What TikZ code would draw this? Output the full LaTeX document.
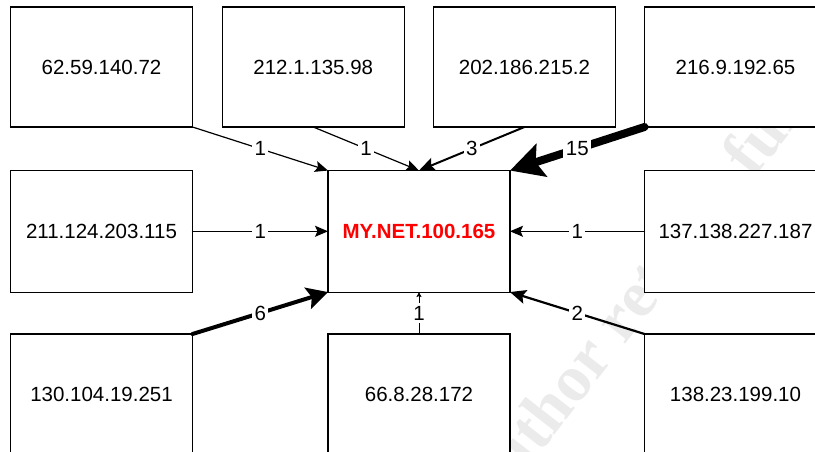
\documentclass[tikz,border=0pt]{standalone}
\usepackage{fontspec}
\setmainfont{Liberation Sans}
\newfontfamily\markfont{Liberation Serif}
\usetikzlibrary{arrows.meta}

\begin{document}
\begin{tikzpicture}[x=1pt,y=-1pt,
  hostbox/.style={draw=black, line width=1.1pt, fill=white,
    minimum width=182pt, minimum height=120pt, inner sep=0pt, outer sep=0pt,
    font=\fontsize{20.5}{24}\selectfont},
  midbox/.style={hostbox, minimum height=121.5pt},
  count/.style={fill=white, inner sep=2.5pt, font=\fontsize{20.5}{24}\selectfont},
  flow/.style={draw=black, line cap=round, line width=#1},
  tipA/.style={-{Stealth[length=13pt,width=11pt,inset=2.5pt]}},
  tipB/.style={-{Stealth[length=16pt,width=14pt,inset=3pt]}},
  tipC/.style={-{Stealth[length=21pt,width=22pt,inset=4pt]}},
  tipD/.style={-{Stealth[length=33pt,width=34pt,inset=6pt]}},
  tipE/.style={-{Stealth[length=5pt,width=5pt,inset=1pt]}},
]
\useasboundingbox (0,0) rectangle (815,452);
\clip (0,0) rectangle (815,452);

% faint diagonal watermark behind the boxes
\node[anchor=base west, rotate=52, text=black!8, inner sep=0pt,
      font=\markfont\bfseries\fontsize{66}{74}\selectfont] (mark) at (488,520)
  {Author retains full rights.};

% hosts
\node[hostbox] (h1) at (101.5,67) {62.59.140.72};
\node[hostbox] (h2) at (313.25,67) {212.1.135.98};
\node[hostbox] (h3) at (524.5,67) {202.186.215.2};
\node[hostbox] (h4) at (735.5,67) {216.9.192.65};
\node[midbox] (h5) at (101.5,231.3) {211.124.203.115};
\node[midbox, font=\fontsize{20.5}{24}\selectfont\bfseries, text=red] (me) at (419,231.3) {MY.NET.100.165};
\node[midbox] (h6) at (735.5,231.3) {137.138.227.187};
\node[hostbox] (h7) at (101.5,394) {130.104.19.251};
\node[hostbox] (h8) at (419,394) {66.8.28.172};
\node[hostbox] (h9) at (735.5,394) {138.23.199.10};

% connection counts towards the monitored host
\draw[flow=1.2pt, tipA] (h1.south east) -- node[count] {1} (me.north west);
\draw[flow=1.2pt, tipA] (h2.south) -- node[count] {1} (me.north);
\draw[flow=2pt, tipB] (h3.south) -- node[count] {3} (me.north);
\draw[flow=8pt, tipD] (h4.south west) -- node[count] {15} (me.north east);
\draw[flow=1.2pt, tipA] (h5.east) -- node[count] {1} (me.west);
\draw[flow=1.2pt, tipA] (h6.west) -- node[count] {1} (me.east);
\draw[flow=4pt, tipC] (h7.north east) -- node[count] {6} (me.south west);
\draw[flow=0.8pt, tipE] (h8.north) -- node[count] {1} (me.south);
\draw[flow=2.2pt, tipB] (h9.north west) -- node[count] {2} (me.south east);
\end{tikzpicture}
\end{document}
